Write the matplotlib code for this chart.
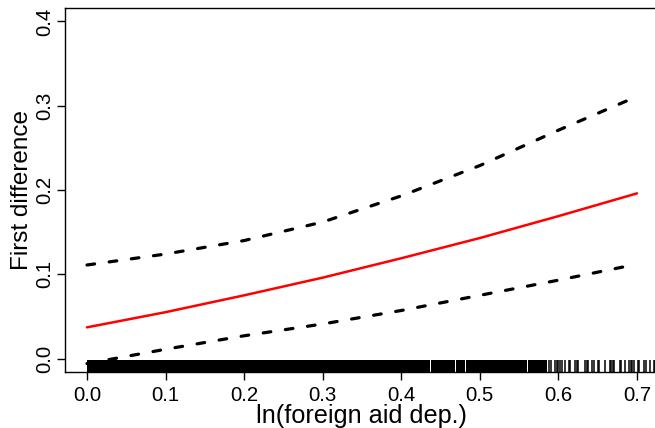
import matplotlib
matplotlib.use("Agg")
import matplotlib.pyplot as plt
import matplotlib.transforms as mtransforms

plt.rcParams['font.family'] = ['Liberation Sans', 'DejaVu Sans']

# Predicted first difference over ln(foreign aid dependence)
aid = [0.0, 0.1, 0.2, 0.3, 0.4, 0.5, 0.6, 0.7]
fd_mean = [0.037, 0.055, 0.075, 0.096, 0.119, 0.143, 0.169, 0.196]
fd_upper = [0.111, 0.124, 0.140, 0.162, 0.193, 0.229, 0.271, 0.311]
fd_lower = [-0.006, 0.011, 0.027, 0.041, 0.057, 0.075, 0.093, 0.112]

# Observed aid values (rug): densely observed stretches and single observations
rug_spans = [(0.0, 0.262), (0.2628, 0.3000), (0.3008, 0.3520), (0.3528, 0.3660),
             (0.3668, 0.4370), (0.4380, 0.4680), (0.4690, 0.4810),
             (0.4822, 0.5600), (0.5608, 0.5850)]
rug_ticks = [0.588, 0.590, 0.596, 0.598, 0.600, 0.602, 0.604, 0.608, 0.613,
             0.615, 0.621, 0.623, 0.625, 0.634, 0.636, 0.638, 0.643, 0.645,
             0.650, 0.652, 0.659, 0.665, 0.667, 0.669, 0.671, 0.678, 0.680,
             0.685, 0.690, 0.692, 0.694, 0.696, 0.701, 0.703, 0.709, 0.711,
             0.716, 0.721, 0.723]

x_ticks = [0.0, 0.1, 0.2, 0.3, 0.4, 0.5, 0.6, 0.7]
y_ticks = [0.0, 0.1, 0.2, 0.3, 0.4]

fig = plt.figure(figsize=(6.55, 4.28), dpi=100)
ax = fig.add_axes([65 / 655, 1 - 372 / 428, 594 / 655, 364 / 428])

ax.plot(aid, fd_mean, color='red', lw=1.8, solid_capstyle='round', zorder=3)
for band in (fd_upper, fd_lower):
    ax.plot(aid, band, color='black', lw=2.3, linestyle=(0, (2.4, 4.6)),
            dash_capstyle='round', zorder=3)

trans = mtransforms.blended_transform_factory(ax.transData, ax.transAxes)
rug_h = 0.033
for a, b in rug_spans:
    ax.fill_between([a, b], 0, rug_h, transform=trans, color='black',
                    lw=0, zorder=4)
ax.vlines(rug_ticks, 0, rug_h, transform=trans, color='black', lw=1.1,
          zorder=4)

ax.set_xlim(-0.028, 0.728)
ax.set_ylim(-0.016, 0.416)
ax.set_xticks(x_ticks)
ax.set_xticklabels([f"{v:.1f}" for v in x_ticks])
ax.set_yticks(y_ticks)
ax.set_yticklabels([f"{v:.1f}" for v in y_ticks], rotation=90, va='center')

for s in ax.spines.values():
    s.set_linewidth(1.0)
ax.tick_params(axis='both', direction='out', length=6, width=1.0,
               labelsize=14.7, colors='black')
ax.tick_params(axis='x', pad=4)
ax.tick_params(axis='y', pad=2)

ax.set_xlabel("ln(foreign aid dep.)", fontsize=18.2, labelpad=-1)
ax.set_ylabel("First difference", fontsize=17.5, labelpad=1.5)

fig.savefig("out.png", dpi=100)
